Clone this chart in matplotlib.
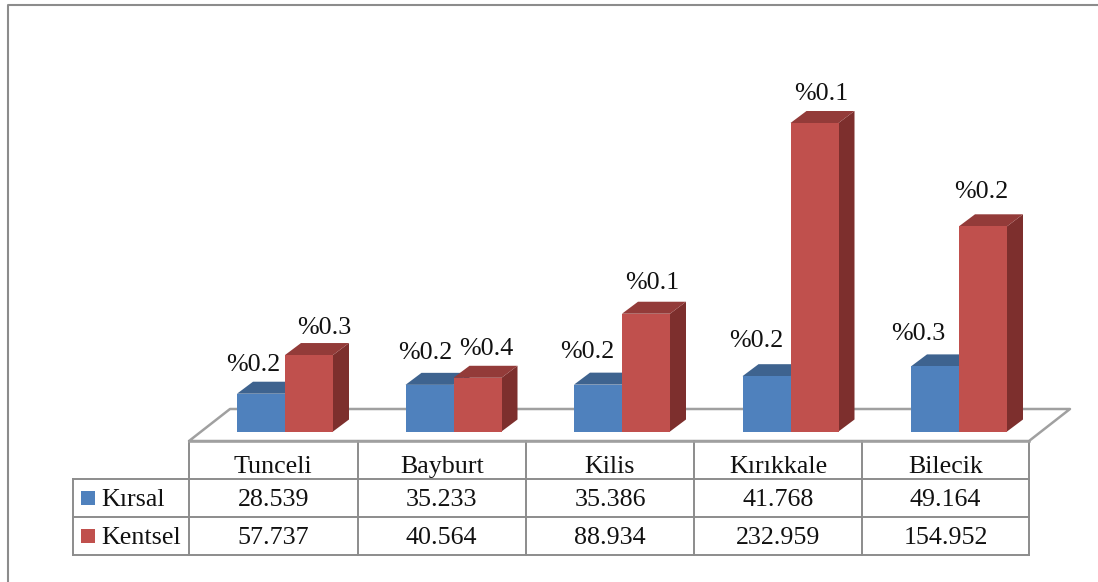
import matplotlib
matplotlib.use("Agg")
import matplotlib.pyplot as plt
from matplotlib.patches import Polygon, Rectangle

plt.rcParams['font.family'] = ['Liberation Serif', 'DejaVu Serif']

categories = ["Tunceli", "Bayburt", "Kilis", "Kırıkkale", "Bilecik"]
series_names = ["Kırsal", "Kentsel"]
kirsal = [28539, 35233, 35386, 41768, 49164]
kentsel = [57737, 40564, 88934, 232959, 154952]
kirsal_text = ["28.539", "35.233", "35.386", "41.768", "49.164"]
kentsel_text = ["57.737", "40.564", "88.934", "232.959", "154.952"]
kirsal_pct = ["%0.2", "%0.2", "%0.2", "%0.2", "%0.3"]
kentsel_pct = ["%0.3", "%0.4", "%0.1", "%0.1", "%0.2"]

W, H = 1098, 582
GRID = "#8c8c8c"
FS = 18.7

# colours: front, top, side
BLUE = ("#4F81BD", "#3E638F", "#34547A")
RED = ("#C0504D", "#933B39", "#7D2F2D")

# pixel layout
col_x = [189, 357.5, 526, 694, 862, 1029]
row_y = [441, 479, 517, 555]
row_base = [473, 506.5, 544.5]
legend_x = 73
base_py = 431.5
px_per_unit = 308.5 / 232959
bar_step = 168.5
bar_w_px = 48
first_center_px = 285
depth_x_px, depth_y_px = 16, 12

fig = plt.figure(figsize=(W / 100, H / 100), dpi=100)

# overlay in pixel coordinates for frame, floor and table
pix = fig.add_axes([0, 0, 1, 1])
pix.set_xlim(0, W)
pix.set_ylim(H, 0)
pix.axis("off")

# data axes: x in category index, y in population
ax = fig.add_axes([0, 0, 1, 1], facecolor="none")
ax.set_xlim(-first_center_px / bar_step, (W - first_center_px) / bar_step)
ax.set_ylim((base_py - H) / px_per_unit, base_py / px_per_unit)
ax.axis("off")

# outer frame
pix.plot([7.5, 7.5, W], [H, 4.5, 4.5], color=GRID, lw=1.5, solid_capstyle="butt")

# floor
floor = Polygon([(189, 441), (230, 409), (1070, 409), (1029, 441)], closed=True,
                facecolor="white", edgecolor="#a0a0a0", lw=1.8, joinstyle="round")
pix.add_patch(floor)

bw = bar_w_px / bar_step
dx = depth_x_px / bar_step
dy = depth_y_px / px_per_unit


def bar3d(x0, value, cols):
    x1 = x0 + bw
    ax.add_patch(Polygon([(x1, 0), (x1 + dx, dy), (x1 + dx, value + dy), (x1, value)],
                         facecolor=cols[2], edgecolor="none"))
    ax.add_patch(Polygon([(x0, value), (x0 + dx, value + dy), (x1 + dx, value + dy), (x1, value)],
                         facecolor=cols[1], edgecolor="none"))
    ax.add_patch(Rectangle((x0, 0), bw, value, facecolor=cols[0], edgecolor="none"))


for i in range(len(categories)):
    bar3d(i - bw, kirsal[i], BLUE)
    bar3d(i, kentsel[i], RED)

# percent labels, placed by hand relative to each bar top (pixels)
kirsal_off = [(-32, 29), (-28, 32), (-35, 33), (-34, 35), (-41, 32)]
kentsel_off = [(39, 27), (33, 29), (30, 31), (31, 29), (22, 34)]
for i in range(len(categories)):
    ax.annotate(kirsal_pct[i], (i, kirsal[i]), xytext=(kirsal_off[i][0] * 0.72, kirsal_off[i][1] * 0.72),
                textcoords="offset points", ha="center", va="center", fontsize=FS, color="#111111")
    ax.annotate(kentsel_pct[i], (i, kentsel[i]), xytext=(kentsel_off[i][0] * 0.72, kentsel_off[i][1] * 0.72),
                textcoords="offset points", ha="center", va="center", fontsize=FS, color="#111111")

# data table
for x in col_x:
    pix.plot([x, x], [row_y[0], row_y[-1]], color=GRID, lw=1.4)
pix.plot([legend_x, legend_x], [row_y[1], row_y[-1]], color=GRID, lw=1.4)
pix.plot([col_x[0], col_x[-1]], [row_y[0], row_y[0]], color="#a0a0a0", lw=1.8)
for y in row_y[1:]:
    pix.plot([legend_x, col_x[-1]], [y, y], color=GRID, lw=1.4)

rows = [categories, kirsal_text, kentsel_text]
for r, labels in enumerate(rows):
    for c, lab in enumerate(labels):
        pix.text((col_x[c] + col_x[c + 1]) / 2, row_base[r], lab, ha="center", va="baseline",
                 fontsize=FS, color="#111111")

for r, (name, cols) in enumerate(zip(series_names, (BLUE, RED))):
    ytop = row_y[r + 1] + 12
    pix.add_patch(Rectangle((81, ytop), 14, 14, facecolor=cols[0], edgecolor="none"))
    pix.text(101, row_base[r + 1], name, ha="left", va="baseline", fontsize=FS, color="#111111")

fig.savefig("out.png", dpi=100, facecolor="white")
